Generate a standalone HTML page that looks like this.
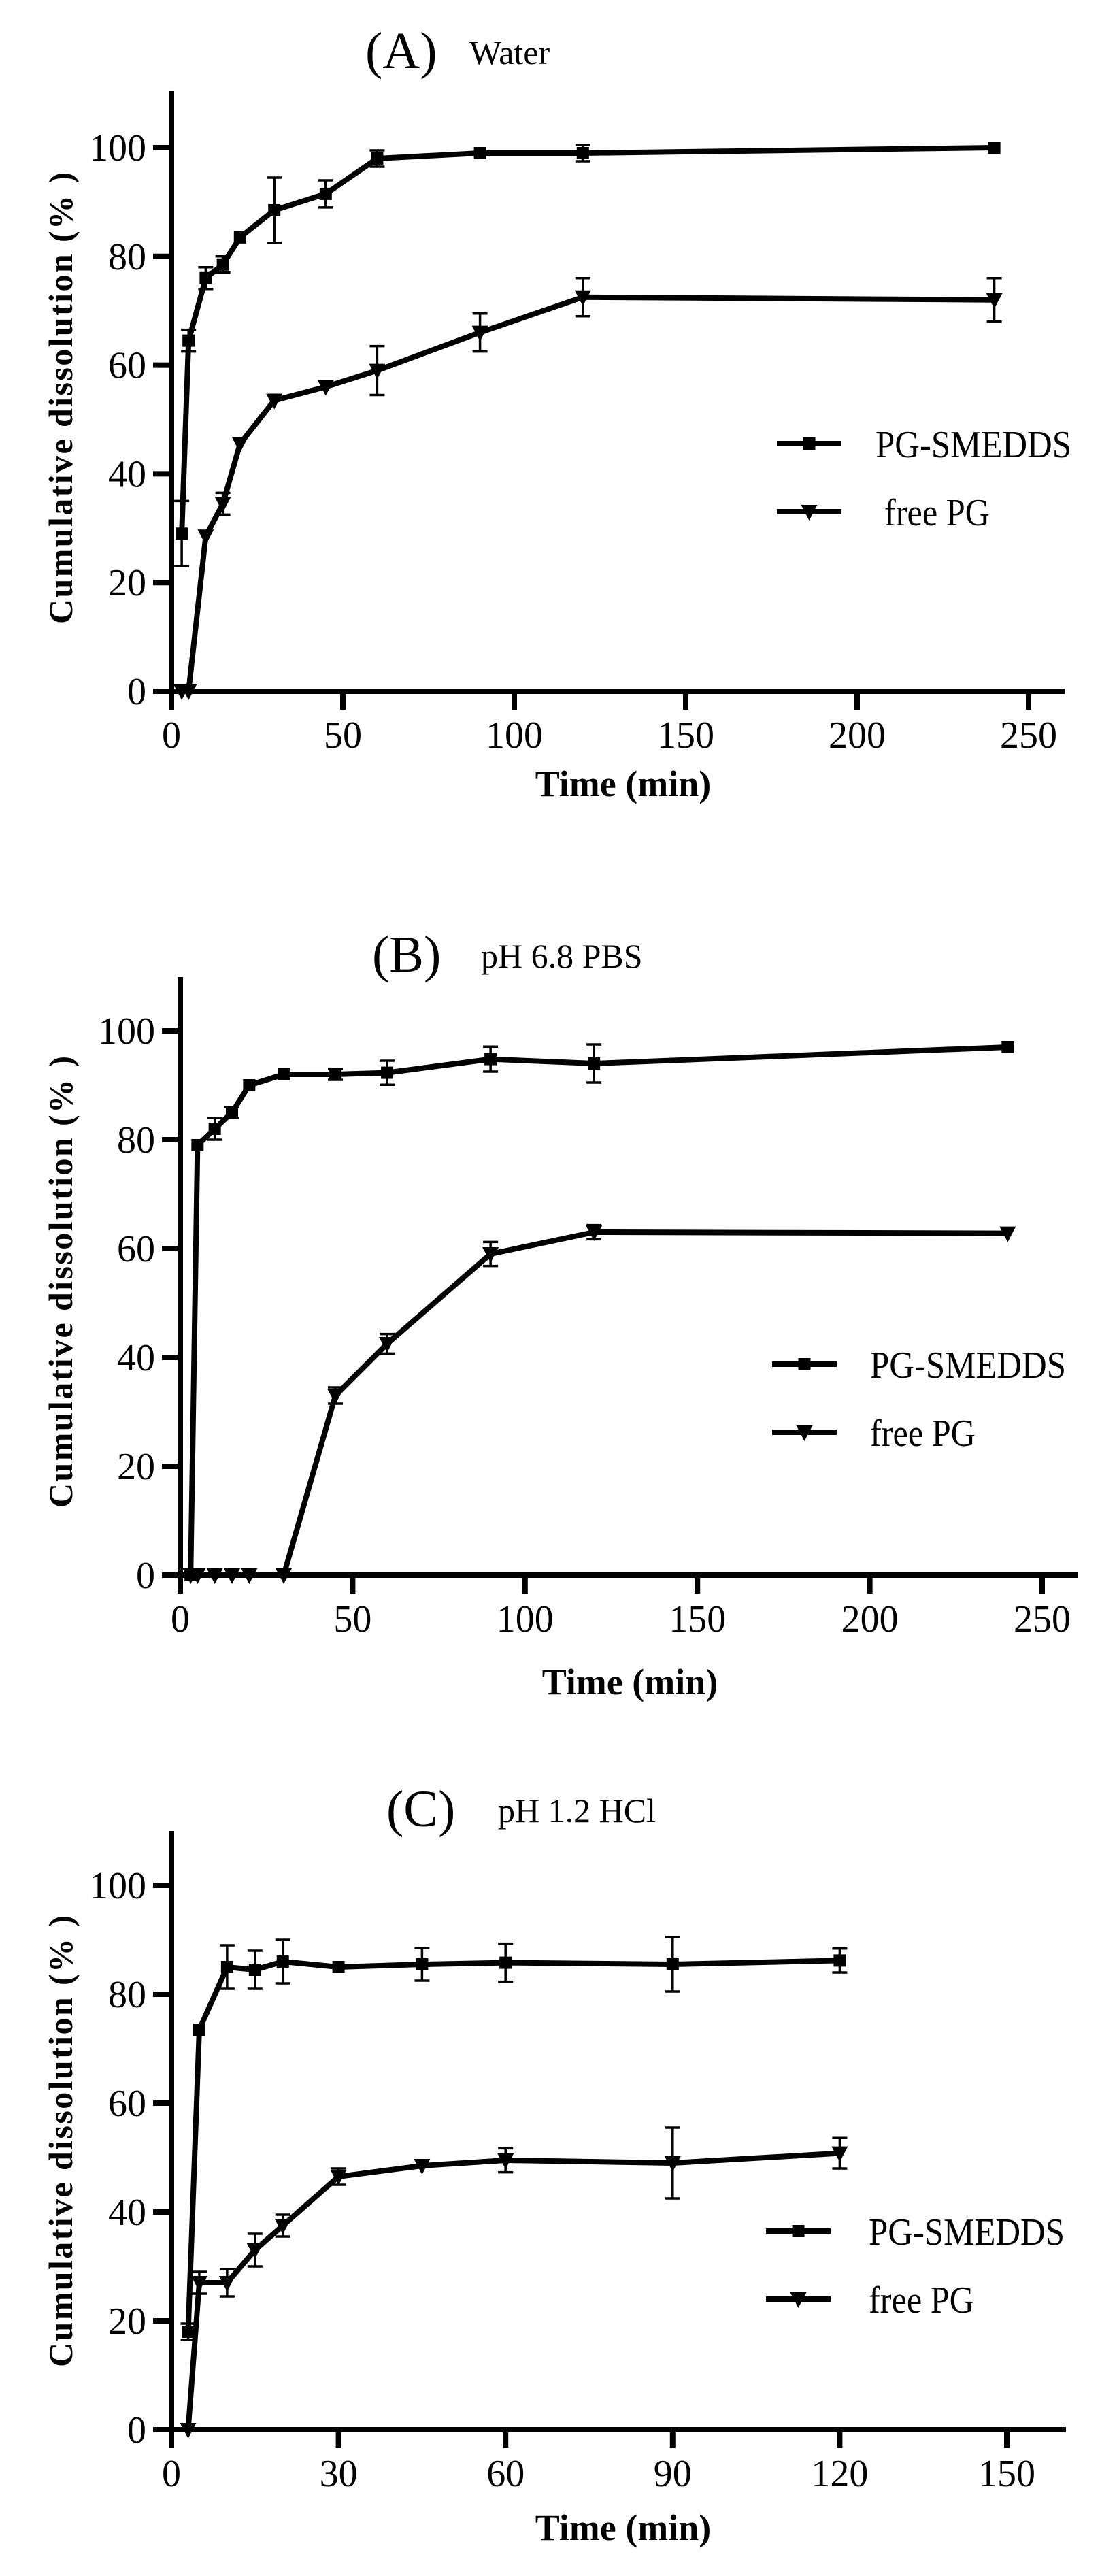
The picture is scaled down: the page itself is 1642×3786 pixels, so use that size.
<!DOCTYPE html>
<html><head><meta charset="utf-8">
<style>
html,body{margin:0;padding:0;background:#fff;}
svg{display:block;}
text{font-family:"Liberation Serif",serif;fill:#000;}
</style></head>
<body>
<svg id="fig" width="1642" height="3786" viewBox="0 0 1642 3786" xmlns="http://www.w3.org/2000/svg"></svg>
<script>
// ---- Panel A (Water) ----
const timesA = [3,5,10,15,20,30,45,60,90,120,240];
const smeddsA = [29,64.5,76,78.5,83.5,88.5,91.5,98,99,99,100];
const smeddsErrA = [6,2,2,1.5,0.5,6,2.5,1.5,0.5,1.5,0.5];
const freeA = [0,0,28.5,34.5,45.5,53.5,56,59,66,72.5,72];
const freeErrA = [0,0,0,2,0.5,0.5,0.5,4.5,3.5,3.5,4];
const xTicksA = [0,50,100,150,200,250];
// ---- Panel B (pH 6.8 PBS) ----
const timesB = [3,5,10,15,20,30,45,60,90,120,240];
const smeddsB = [0,79,82,85,90,92,92,92.3,94.8,94,97];
const smeddsErrB = [0,0.5,2,1,0.5,0.5,1,2.2,2.3,3.5,0.5];
const freeB = [0,0,0,0,0,0,33,42.5,59,63,62.8];
const freeErrB = [0,0,0,0,0,0,1.5,1.8,2.2,1.3,0.5];
const xTicksB = [0,50,100,150,200,250];
// ---- Panel C (pH 1.2 HCl) ----
const timesC = [3,5,10,15,20,30,45,60,90,120];
const smeddsC = [18,73.5,85,84.5,86,85,85.5,85.8,85.5,86.2];
const smeddsErrC = [1.5,0.5,4,3.5,4,0.5,3,3.5,5,2.2];
const freeC = [0,27,27,33,37.5,46.5,48.5,49.5,49,50.8];
const freeErrC = [0,2,2.5,3,2,1.5,0.5,2.2,6.5,2.8];
const xTicksC = [0,30,60,90,120,150];
const yTicks = [0,20,40,60,80,100];
const legendLabels = ["PG-SMEDDS","free PG"];

const NS = "http://www.w3.org/2000/svg";
const svg = document.getElementById('fig');
function mk(tag, attrs, parent){
  const e = document.createElementNS(NS, tag);
  for (const k in attrs) e.setAttribute(k, attrs[k]);
  (parent||svg).appendChild(e);
  return e;
}

const panels = [
  {id:'a', letter:'(A)', cond:'Water', ax:252, y0:1016, y100:217, yTop:134, xEndVal:250, xEndPx:1512, axEnd:1565,
   titleY:100, letterX:537, condX:690, legX:1142, legY:[652,752], legTX:[1287,1300], legTW:[288,155],
   ylabY:585, xlabX:916, xlabY:1170, t:timesA, s:smeddsA, se:smeddsErrA, f:freeA, fe:freeErrA, xt:xTicksA},
  {id:'b', letter:'(B)', cond:'pH 6.8 PBS', ax:265, y0:2315, y100:1515, yTop:1436, xEndVal:250, xEndPx:1532, axEnd:1584,
   titleY:1428, letterX:547, condX:707, legX:1135, legY:[2005,2105], legTX:[1279,1279], legTW:[288,155],
   ylabY:1884, xlabX:926, xlabY:2490, t:timesB, s:smeddsB, se:smeddsErrB, f:freeB, fe:freeErrB, xt:xTicksB},
  {id:'c', letter:'(C)', cond:'pH 1.2 HCl', ax:252, y0:3571, y100:2771, yTop:2691, xEndVal:150, xEndPx:1480, axEnd:1567,
   titleY:2684, letterX:568, condX:732, legX:1126, legY:[3279,3379], legTX:[1277,1277], legTW:[288,155],
   ylabY:3147, xlabX:916, xlabY:3733, t:timesC, s:smeddsC, se:smeddsErrC, f:freeC, fe:freeErrC, xt:xTicksC}
];

panels.forEach(p => {
  const g = mk('g', {});
  
  
  const X = v => p.ax + (v / p.xEndVal) * (p.xEndPx - p.ax);
  const Y = v => p.y0 - (v / 100) * (p.y0 - p.y100);

  // title
  const tl = mk('text', {x:p.letterX, y:p.titleY, 'font-size':76}, g);
  tl.textContent = p.letter;
  
  
  const tc = mk('text', {x:p.condX, y:p.titleY-6, 'font-size':50}, g);
  tc.textContent = p.cond;
  
  

  // axes
  const ya = mk('line', {x1:p.ax, y1:p.yTop, x2:p.ax, y2:p.y0+27, stroke:'#000','stroke-width':8}, g);
  
  
  const xa = mk('line', {x1:p.ax-27, y1:p.y0, x2:p.axEnd, y2:p.y0, stroke:'#000','stroke-width':8}, g);
  
  

  yTicks.forEach(v => {
    mk('line', {x1:p.ax-27, y1:Y(v), x2:p.ax, y2:Y(v), stroke:'#000','stroke-width':8}, g);
    const t = mk('text', {x:p.ax-37, y:Y(v)+19, 'font-size':56, 'text-anchor':'end'}, g);
    t.textContent = v;
    
    
  });
  p.xt.forEach(v => {
    mk('line', {x1:X(v), y1:p.y0, x2:X(v), y2:p.y0+27, stroke:'#000','stroke-width':8}, g);
    const t = mk('text', {x:X(v), y:p.y0+83, 'font-size':56, 'text-anchor':'middle'}, g);
    t.textContent = v;
    
    
  });

  // axis titles
  const yl = mk('text', {x:0, y:0, 'font-size':50, 'font-weight':'bold', 'text-anchor':'middle',
    transform:'translate(' + 106 + ',' + p.ylabY + ') rotate(-90)', textLength:664, lengthAdjust:'spacing'}, g);
  yl.textContent = 'Cumulative  dissolution (% )';
  
  
  const xl = mk('text', {x:p.xlabX, y:p.xlabY, 'font-size':54, 'font-weight':'bold', 'text-anchor':'middle'}, g);
  xl.textContent = 'Time (min)';
  
  

  // series
  const series = [{v:p.s, e:p.se, m:'sq', n:'pg-smedds'}, {v:p.f, e:p.fe, m:'tri', n:'free-pg'}];
  series.forEach(s => {
    const sg = mk('g', {}, g);
    
    
    // error bars
    p.t.forEach((t, i) => {
      if (s.e[i] > 0.9) {
        const x = X(t), yt = Y(s.v[i] + s.e[i]), yb = Y(s.v[i] - s.e[i]);
        const eb = mk('path', {d:'M'+x+' '+yt+'V'+yb+'M'+(x-11)+' '+yt+'H'+(x+11)+'M'+(x-11)+' '+yb+'H'+(x+11),
          stroke:'#000','stroke-width':3.5, fill:'none'}, sg);
        
        
      }
    });
    const pts = p.t.map((t, i) => X(t) + ',' + Y(s.v[i])).join(' ');
    const ln = mk('polyline', {points:pts, fill:'none', stroke:'#000','stroke-width':8,'stroke-linejoin':'round'}, sg);
    
    
    p.t.forEach((t, i) => {
      const x = X(t), y = Y(s.v[i]);
      let m;
      if (s.m === 'sq') m = mk('rect', {x:x-9, y:y-9, width:18, height:18, fill:'#000'}, sg);
      else m = mk('path', {d:'M'+(x-12)+' '+(y-10)+'H'+(x+12)+'L'+x+' '+(y+13)+'Z', fill:'#000'}, sg);
      
      
    });
  });

  // legend
  legendLabels.forEach((lab, i) => {
    const lg = mk('g', {}, g);
    
    
    const ly = p.legY[i], lx1 = p.legX, lx2 = p.legX + 95, cx = (lx1 + lx2) / 2;
    mk('line', {x1:lx1, y1:ly, x2:lx2, y2:ly, stroke:'#000','stroke-width':8}, lg);
    if (i === 0) mk('rect', {x:cx-9, y:ly-9, width:18, height:18, fill:'#000'}, lg);
    else mk('path', {d:'M'+(cx-12)+' '+(ly-10)+'H'+(cx+12)+'L'+cx+' '+(ly+13)+'Z', fill:'#000'}, lg);
    const t = mk('text', {x:p.legTX[i], y:ly+20, 'font-size':56, textLength:p.legTW[i], lengthAdjust:'spacingAndGlyphs'}, lg);
    t.textContent = lab;
  });
});
</script>
</body></html>
